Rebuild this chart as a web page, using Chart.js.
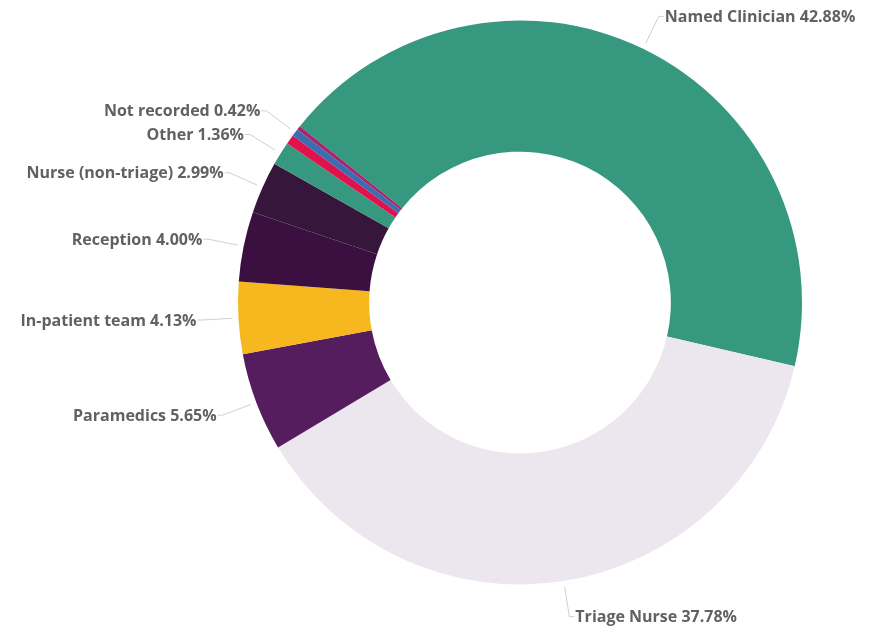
<!DOCTYPE html>
<html>
<head>
<meta charset="utf-8">
<title>Referral source</title>
<script src="https://cdn.jsdelivr.net/npm/chart.js@4.4.1/dist/chart.umd.min.js"></script>
<style>
  html, body { margin: 0; padding: 0; background: #fff; }
  canvas { display: block; }
</style>
</head>
<body>
<canvas id="donut" width="869" height="627"></canvas>
<script>
// referral sources, clockwise from the top-left; blank names get no label
const sources = ['Named Clinician', 'Triage Nurse', 'Paramedics', 'In-patient team', 'Reception',
  'Nurse (non-triage)', 'Other', '', 'Not recorded', ''];
const shares = [42.88, 37.78, 5.65, 4.13, 4.00, 2.99, 1.36, 0.55, 0.42, 0.24];
const sliceColours = ['#36997f', '#ece7ee', '#561d5e', '#f6b71f', '#3b0f40',
  '#37163b', '#36997f', '#e0124c', '#3b6db0', '#a3276f'];

// leader line + "Name 12.34%" text outside each named slice
const outsideLabels = {
  id: 'outsideLabels',
  afterDatasetsDraw(chart) {
    const ctx = chart.ctx;
    const arcs = chart.getDatasetMeta(0).data;
    ctx.save();
    ctx.font = '700 16px "Open Sans", sans-serif';
    ctx.textBaseline = 'middle';
    arcs.forEach((arc, i) => {
      const name = sources[i];
      if (!name) return;
      const mid = (arc.startAngle + arc.endAngle) / 2;
      const cos = Math.cos(mid), sin = Math.sin(mid);
      const r0 = arc.outerRadius + 6, r1 = arc.outerRadius + 36;
      const x0 = arc.x + cos * r0, y0 = arc.y + sin * r0;
      const x1 = arc.x + cos * r1, y1 = arc.y + sin * r1;
      const right = cos >= 0;
      const x2 = x1 + (right ? 5 : -5);
      ctx.strokeStyle = '#cfcfcf';
      ctx.lineWidth = 1;
      ctx.beginPath();
      ctx.moveTo(x0, y0);
      ctx.lineTo(x1, y1);
      ctx.lineTo(x2, y1);
      ctx.stroke();
      ctx.fillStyle = '#616161';
      ctx.textAlign = right ? 'left' : 'right';
      ctx.fillText(name + ' ' + shares[i].toFixed(2) + '%', x2 + (right ? 1 : -1), y1 + 1);
    });
    ctx.restore();
  }
};

new Chart(document.getElementById('donut'), {
  type: 'doughnut',
  data: {
    labels: sources,
    datasets: [{
      data: shares,
      backgroundColor: sliceColours,
      borderWidth: 0
    }]
  },
  options: {
    responsive: false,
    animation: false,
    rotation: -51.3,
    cutout: '53.5%',
    layout: { padding: { left: 238, right: 67, top: 20.5, bottom: 42.5 } },
    plugins: {
      legend: { display: false },
      tooltip: { enabled: false }
    }
  },
  plugins: [outsideLabels]
});
</script>
</body>
</html>
